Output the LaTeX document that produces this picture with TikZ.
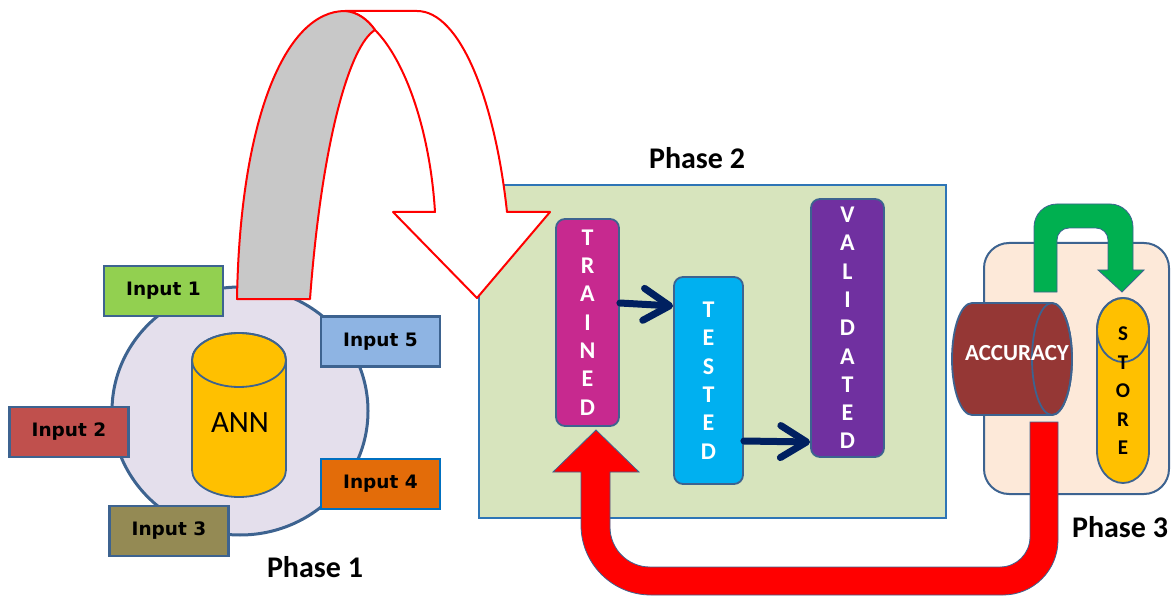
\documentclass[tikz,border=0pt]{standalone}
\usepackage{fontspec}
\setmainfont{Carlito}
\newfontfamily\dejavu{DejaVu Sans}
\usetikzlibrary{shapes.geometric,arrows.meta,calc}
\definecolor{bordc}{HTML}{3D6390}
\definecolor{ringc}{HTML}{E4DFEC}
\definecolor{inAc}{HTML}{92D050}
\definecolor{inBc}{HTML}{C0504D}
\definecolor{inCc}{HTML}{948A54}
\definecolor{inDc}{HTML}{E36C09}
\definecolor{inEc}{HTML}{8EB4E3}
\definecolor{blueb}{HTML}{0070C0}
\definecolor{goldc}{HTML}{FFC000}
\definecolor{greyc}{HTML}{C8C8C8}
\definecolor{phtwo}{HTML}{D7E4BD}
\definecolor{phtwob}{HTML}{2E75B6}
\definecolor{trc}{HTML}{C7298F}
\definecolor{tec}{HTML}{00B0F0}
\definecolor{vac}{HTML}{7030A0}
\definecolor{navyc}{HTML}{002060}
\definecolor{phthree}{HTML}{FDE9D9}
\definecolor{accc}{HTML}{953735}
\definecolor{greenc}{HTML}{00B050}
\definecolor{redc}{HTML}{FF0000}
\tikzset{
  border/.style={draw=bordc, line width=2.2pt},
  inbox/.style={border, minimum width=119pt, minimum height=50pt, inner sep=0pt,
    font=\dejavu\bfseries\fontsize{18.5}{20}\selectfont},
  stage/.style={draw=bordc, line width=1.8pt, rounded corners=9pt, inner sep=0pt,
    text=white, align=center, font=\bfseries\fontsize{24}{28.3}\selectfont},
  phase/.style={font=\bfseries\fontsize{30}{32}\selectfont},
  flow/.style={draw=navyc, line width=7pt, line cap=round,
    -{Straight Barb[length=26pt,width=32pt,round]}},
  cyl/.style={draw=bordc, line width=1.8pt, line join=round},
  bigarrow/.style={draw=bordc, line width=0.8pt, line join=miter},
  foldarrow/.style={draw=redc, line width=2pt, line join=round},
}
\begin{document}
\begin{tikzpicture}[x=1pt,y=-1pt]
\useasboundingbox (0,0) rectangle (1173,596);

% ---------- Phase 1 ----------
\node[ellipse, draw=bordc, line width=3pt, fill=ringc, minimum width=256pt,
  minimum height=248pt, inner sep=0pt] (ring) at (240,411) {};
% ANN cylinder
\filldraw[cyl, fill=goldc] (192,360) -- (192,470)
  arc[start angle=180, end angle=0, x radius=47, y radius=27]
  -- (286,360) arc[start angle=0, end angle=-180, x radius=47, y radius=27] -- cycle;
\draw[cyl] (239,360) ellipse[x radius=47, y radius=27];
\node[font=\fontsize{31}{33}\selectfont] (ann) at (240,423) {ANN};

\node[inbox, fill=inAc] (inA) at (163.5,291) {Input 1};
\node[inbox, fill=inBc] (inB) at (69,432) {Input 2};
\node[inbox, fill=inCc] (inC) at (169,531) {Input 3};
\node[inbox, fill=inDc, draw=blueb] (inD) at (380.5,484) {Input 4};
\node[inbox, fill=inEc] (inE) at (380.5,341.5) {Input 5};
\node[phase] (ph1) at (315,567) {Phase 1};

% ---------- Phase 2 ----------
\node[draw=phtwob, line width=2pt, fill=phtwo, minimum width=467pt,
  minimum height=333pt, inner sep=0pt] (p2) at (712.5,351.5) {};
\node[phase] (ph2) at (697,158) {Phase 2};

% big folded arrow from phase 1 to phase 2
\filldraw[foldarrow, fill=white] (345,11) -- (417,11)
  .. controls (460,11) and (495,100) .. (507,212)
  -- (550,212) -- (477,298) -- (393,212) -- (435,212)
  .. controls (430,130) and (405,60) .. (375,30)
  .. controls (368,20) and (358,12) .. (345,11) -- cycle;
\filldraw[foldarrow, fill=greyc] (237,299)
  .. controls (240,120) and (285,11) .. (345,11)
  .. controls (358,12) and (368,20) .. (375,30)
  .. controls (350,45) and (322,140) .. (310,299) -- cycle;

\node[stage, fill=trc, minimum width=63pt, minimum height=207pt] (tr) at (587.5,322.5)
  {T\\R\\A\\I\\N\\E\\D};
\node[stage, fill=tec, minimum width=69pt, minimum height=207pt] (te) at (708.5,380.5)
  {T\\E\\S\\T\\E\\D};
\node[stage, fill=vac, minimum width=73pt, minimum height=258pt] (va) at (847.5,328)
  {V\\A\\L\\I\\D\\A\\T\\E\\D};
\draw[flow] ($(tr.east)+(0,-19.5)$) -- ($(te.west)+(0,-74.5)$);
\draw[flow] ($(te.east)+(0,60.5)$) -- ($(va.west)+(0,114)$);

% ---------- Phase 3 ----------
\node[draw=bordc, line width=2pt, fill=phthree, rounded corners=25pt,
  minimum width=185pt, minimum height=251pt, inner sep=0pt] (p3) at (1076.5,368.5) {};
% accuracy cylinder (horizontal)
\filldraw[cyl, fill=accc] (1052,303)
  arc[start angle=-90, end angle=90, x radius=20, y radius=56]
  -- (972,415) arc[start angle=90, end angle=270, x radius=20, y radius=56] -- cycle;
\draw[cyl] (1052,359) ellipse[x radius=20, y radius=56];
\node[text=white, font=\bfseries\fontsize{23}{25}\selectfont] (acc) at (1017,353) {ACCURACY};
% store cylinder (vertical)
\filldraw[cyl, fill=goldc] (1097,330) -- (1097,451)
  arc[start angle=180, end angle=0, x radius=26, y radius=32]
  -- (1149,330) arc[start angle=0, end angle=-180, x radius=26, y radius=32] -- cycle;
\draw[cyl] (1123,330) ellipse[x radius=26, y radius=32];
\node[align=center, font=\bfseries\fontsize{21}{28.5}\selectfont] (store) at (1123,391)
  {S\\T\\O\\R\\E};
% green U-turn arrow
\filldraw[bigarrow, fill=greenc] (1034,292) -- (1034,227)
  arc[start angle=180, end angle=270, radius=23] -- (1110,204)
  arc[start angle=270, end angle=360, radius=23] -- (1133,270)
  -- (1144,270) -- (1122,292) -- (1098,270) -- (1108,270) -- (1108,240)
  arc[start angle=0, end angle=-90, radius=12] -- (1069,228)
  arc[start angle=270, end angle=180, radius=12] -- (1057,292) -- cycle;
\node[phase] (ph3) at (1120,527) {Phase 3};

% red return arrow from phase 3 to TRAINED
\filldraw[bigarrow, fill=redc] (1030,422) -- (1058,422) -- (1058,540)
  arc[start angle=0, end angle=90, radius=55] -- (651,595)
  arc[start angle=90, end angle=180, radius=70] -- (581,472)
  -- (553,472) -- (596,430) -- (639,472) -- (610,472) -- (610,527)
  arc[start angle=180, end angle=90, radius=40] -- (1000,567)
  arc[start angle=90, end angle=0, radius=30] -- cycle;
\end{tikzpicture}
\end{document}
